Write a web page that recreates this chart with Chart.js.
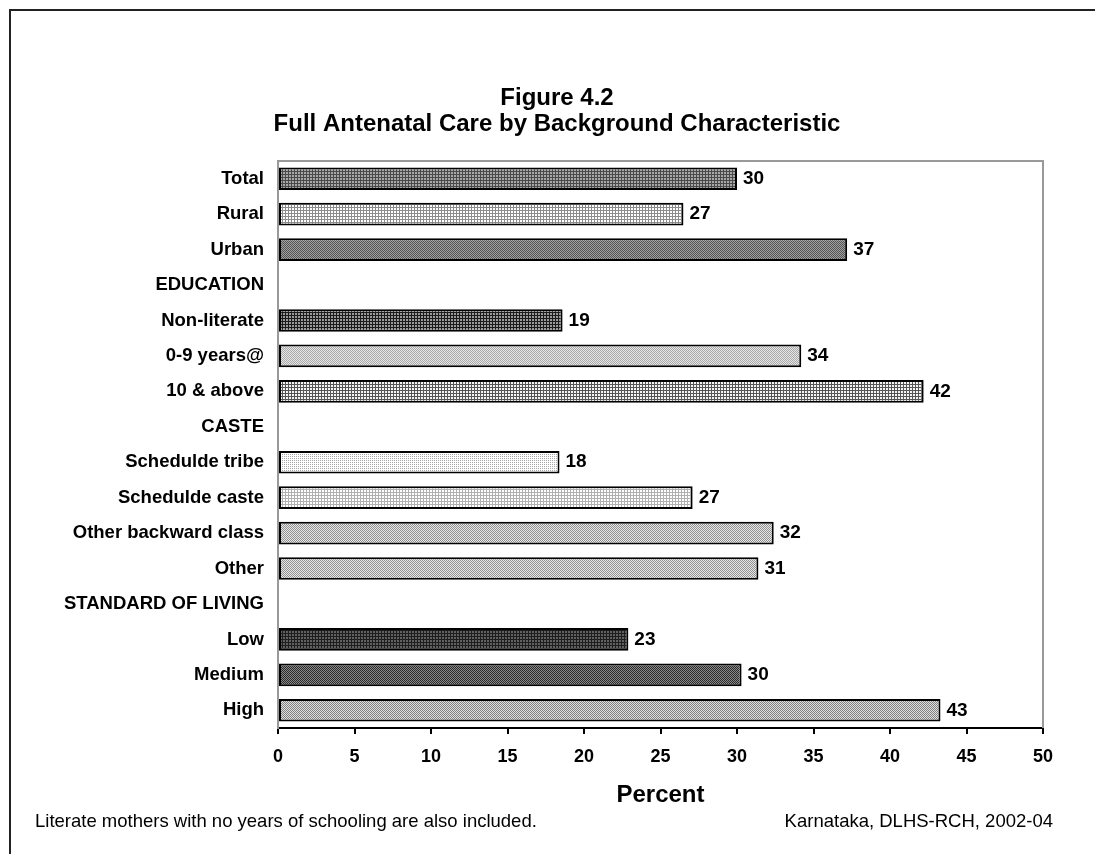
<!DOCTYPE html>
<html>
<head>
<meta charset="utf-8">
<script src="https://cdn.jsdelivr.net/npm/chart.js@4.4.1/dist/chart.umd.min.js"></script>
<style>
  html, body { margin: 0; padding: 0; background: #fff; }
  canvas { display: block; }
</style>
</head>
<body>
<canvas id="chart" width="1095" height="854"></canvas>
<script>
// Rows of the chart, top to bottom (section headings carry no bar)
const categories = [
  'Total', 'Rural', 'Urban',
  'EDUCATION', 'Non-literate', '0-9 years@', '10 & above',
  'CASTE', 'Schedulde tribe', 'Schedulde caste', 'Other backward class', 'Other',
  'STANDARD OF LIVING', 'Low', 'Medium', 'High'
];
// Percent of mothers receiving full antenatal care
const percentValues = [
  30.0, 26.5, 37.2,
  null, 18.6, 34.2, 42.2,
  null, 18.4, 27.1, 32.4, 31.4,
  null, 22.9, 30.3, 43.3
];
// Percent axis range and step
const axisMin = 0;
const axisMax = 50;
const axisStep = 5;

const titleLines = ['Figure 4.2', 'Full Antenatal Care by Background Characteristic'];
const axisTitle = 'Percent';
const noteLeft = 'Literate mothers with no years of schooling are also included.';
const noteRight = 'Karnataka, DLHS-RCH, 2002-04';

const FONT = '"Liberation Sans", Arial, Helvetica, sans-serif';

// Small bitmap fills for the bars
function makePattern(kind, fg, bg) {
  const size = kind === 'grid' ? 3 : 2;
  const c = document.createElement('canvas');
  c.width = size; c.height = size;
  const g = c.getContext('2d');
  g.fillStyle = bg;
  g.fillRect(0, 0, size, size);
  g.fillStyle = fg;
  if (kind === 'grid') {
    g.fillRect(0, 0, size, 1);
    g.fillRect(0, 0, 1, size);
  } else if (kind === 'checker') {
    g.fillRect(0, 0, 1, 1);
    g.fillRect(1, 1, 1, 1);
  } else if (kind === 'dots') {
    g.fillRect(0, 0, 1, 1);
  }
  return g.createPattern(c, 'repeat');
}

const fillSpecs = [
  ['grid', '#4a4a4a', '#a8a8a8'],   // Total
  ['grid', '#8c8c8c', '#ffffff'],   // Rural
  ['checker', '#555555', '#a0a0a0'],// Urban
  null,
  ['grid', '#1a1a1a', '#9a9a9a'],   // Non-literate
  ['checker', '#a8a8a8', '#e6e6e6'],// 0-9 years
  ['grid', '#555555', '#f4f4f4'],   // 10 & above
  null,
  ['dots', '#a8a8a8', '#ffffff'],   // Schedulde tribe
  ['grid', '#b0b0b0', '#ffffff'],   // Schedulde caste
  ['checker', '#909090', '#e8e8e8'],// Other backward class
  ['checker', '#909090', '#e8e8e8'],// Other
  null,
  ['grid', '#1e1e1e', '#606060'],   // Low
  ['checker', '#2a2a2a', '#8a8a8a'],// Medium
  ['checker', '#808080', '#e0e0e0'] // High
];
const barFills = fillSpecs.map(s => s ? makePattern(s[0], s[1], s[2]) : '#fff');

const decorations = {
  id: 'decorations',
  afterDatasetsDraw(chart) {
    const ctx = chart.ctx;
    const area = chart.chartArea;
    ctx.save();

    // plot frame: top and right edges
    ctx.strokeStyle = '#999999';
    ctx.lineWidth = 2;
    ctx.beginPath();
    ctx.moveTo(area.left, area.top);
    ctx.lineTo(area.right, area.top);
    ctx.lineTo(area.right, area.bottom);
    ctx.stroke();

    // value labels at bar ends
    ctx.fillStyle = '#000';
    ctx.font = 'bold 19px ' + FONT;
    ctx.textAlign = 'left';
    ctx.textBaseline = 'middle';
    const meta = chart.getDatasetMeta(0);
    meta.data.forEach((bar, i) => {
      const v = percentValues[i];
      if (v === null) return;
      ctx.fillText(String(Math.round(v)), bar.x + 6, bar.y);
    });

    // titles
    ctx.textAlign = 'center';
    ctx.font = 'bold 24px ' + FONT;
    ctx.fillText(titleLines[0], 557, 98);
    ctx.fillText(titleLines[1], 557, 124);

    ctx.font = 'bold 24px ' + FONT;
    ctx.fillText(axisTitle, (area.left + area.right) / 2, 795);

    // notes
    ctx.font = '18.5px ' + FONT;
    ctx.textAlign = 'left';
    ctx.fillText(noteLeft, 35, 822);
    ctx.textAlign = 'right';
    ctx.fillText(noteRight, 1053, 822);

    // outer frame
    ctx.strokeStyle = '#222';
    ctx.lineWidth = 2;
    ctx.beginPath();
    ctx.moveTo(10, 870);
    ctx.lineTo(10, 10);
    ctx.lineTo(1110, 10);
    ctx.stroke();
    ctx.restore();
  }
};

new Chart(document.getElementById('chart'), {
  type: 'bar',
  data: {
    labels: categories,
    datasets: [{
      data: percentValues,
      backgroundColor: barFills,
      borderColor: '#000',
      borderWidth: 2,
      borderSkipped: false,
      categoryPercentage: 1,
      barPercentage: 0.64
    }]
  },
  options: {
    indexAxis: 'y',
    responsive: false,
    animation: false,
    layout: { padding: { left: 0, right: 52, top: 161, bottom: 0 } },
    plugins: {
      legend: { display: false },
      title: { display: false },
      tooltip: { enabled: false }
    },
    scales: {
      x: {
        min: axisMin,
        max: axisMax,
        afterFit(scale) { scale.height = 126; },
        ticks: {
          stepSize: axisStep,
          color: '#000',
          padding: 12,
          font: { family: FONT, size: 18, weight: 'bold' }
        },
        grid: {
          drawOnChartArea: false,
          drawTicks: true,
          tickLength: 6,
          color: '#000',
          lineWidth: 2
        },
        border: { color: '#000', width: 2 }
      },
      y: {
        afterFit(scale) { scale.width = 278; },
        ticks: {
          color: '#000',
          padding: 14,
          autoSkip: false,
          font: { family: FONT, size: 18.5, weight: 'bold' }
        },
        grid: { display: false, drawTicks: false },
        border: { color: '#999999', width: 2 }
      }
    }
  },
  plugins: [decorations]
});
</script>
</body>
</html>
